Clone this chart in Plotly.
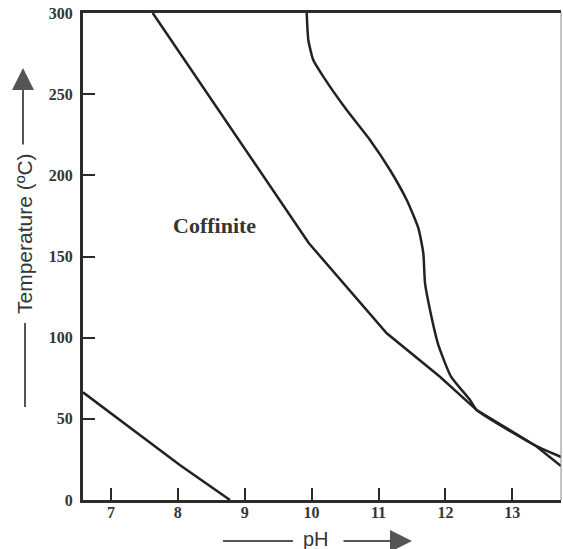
import plotly.graph_objects as go

# --- data (pH, Temperature °C) ---
ph_a = [6.583, 8.03, 8.78]
t_a = [66.3, 21.6, 0.0]

ph_b = [7.625, 9.957, 11.123, 11.919, 12.468, 13.354, 13.728]
t_b = [300.0, 158.3, 102.7, 75.95, 55.4, 33.3, 20.9]

ph_c = [9.927, 9.951, 10.025, 10.175, 10.525, 10.873, 11.172, 11.422, 11.595,
        11.670, 11.695, 11.770, 11.894, 12.084, 12.368, 12.468, 13.354, 13.728]
t_c = [300.0, 283.4, 271.0, 260.8, 240.2, 221.8, 203.3, 184.8, 167.6,
       152.0, 133.7, 117.0, 95.5, 76.0, 61.6, 55.4, 33.3, 26.5]

x_ticks = [7, 8, 9, 10, 11, 12, 13]
y_ticks = [0, 50, 100, 150, 200, 250, 300]
x_range = [6.583, 13.728]
y_range = [0, 300]

line_col = "#222222"
axis_col = "#2b2b2b"
text_col = "#353535"
grey = "#555555"

fig = go.Figure()
fig.add_trace(go.Scatter(x=ph_a, y=t_a, mode="lines",
                         line=dict(color=line_col, width=2.5)))
fig.add_trace(go.Scatter(x=ph_b, y=t_b, mode="lines",
                         line=dict(color=line_col, width=2.5)))
fig.add_trace(go.Scatter(x=ph_c, y=t_c, mode="lines",
                         line=dict(color=line_col, width=2.5, shape="spline", smoothing=0.5)))

tickfont = dict(family="Liberation Serif", size=16, color=text_col, weight="bold")

fig.update_layout(
    width=563, height=549,
    margin=dict(l=83, r=2, t=13, b=49),
    paper_bgcolor="white", plot_bgcolor="white",
    showlegend=False,
    xaxis=dict(range=x_range, tickvals=x_ticks, ticks="inside", ticklen=12,
               tickwidth=2, tickcolor=axis_col, showline=True, linecolor=axis_col,
               linewidth=3, mirror=True, showgrid=False, zeroline=False,
               tickfont=tickfont, ticklabelstandoff=-4),
    yaxis=dict(range=y_range, tickvals=y_ticks, ticks="inside", ticklen=12,
               tickwidth=2, tickcolor=axis_col, showline=True, linecolor=axis_col,
               linewidth=3, showgrid=False, zeroline=False,
               tickfont=tickfont, ticklabelstandoff=4),
)

# right border (thin)
fig.add_shape(type="line", xref="paper", yref="paper", x0=1, x1=1, y0=0, y1=1,
              line=dict(color="#888888", width=1))

W, H = 478.0, 487.0
def px(x):
    return (x - 83) / W
def py(y):
    return (500 - y) / H

# Coffinite label
fig.add_annotation(text="<b>Coffinite</b>", x=px(214), y=py(225), xref="paper", yref="paper",
                   xanchor="center", yanchor="middle",
                   showarrow=False, font=dict(family="Liberation Serif", size=22, color=text_col))

# x axis title with arrow
fig.add_annotation(text="pH", x=px(316), y=py(539), xref="paper", yref="paper",
                   xanchor="center", yanchor="middle",
                   showarrow=False, font=dict(family="Liberation Sans", size=20, color=text_col))
fig.add_shape(type="line", xref="paper", yref="paper", x0=px(223), x1=px(293),
              y0=py(541), y1=py(541), line=dict(color=grey, width=2))
fig.add_annotation(x=px(412), y=py(541), ax=-70, ay=0, xref="paper", yref="paper",
                   showarrow=True, arrowhead=2, arrowsize=2.2, arrowwidth=2, arrowcolor=grey, text="")

# y axis title with arrow
fig.add_annotation(text="Temperature (ºC)", x=px(24), y=py(234), xref="paper", yref="paper",
                   xanchor="center", yanchor="middle",
                   textangle=-90, showarrow=False,
                   font=dict(family="Liberation Sans", size=21, color=text_col))
fig.add_shape(type="line", xref="paper", yref="paper", x0=px(25), x1=px(25),
              y0=py(323), y1=py(407), line=dict(color=grey, width=2))
fig.add_annotation(x=px(23), y=py(68), ax=0, ay=78, xref="paper", yref="paper",
                   showarrow=True, arrowhead=2, arrowsize=2.2, arrowwidth=2, arrowcolor=grey, text="")

fig.write_html("out.html")
